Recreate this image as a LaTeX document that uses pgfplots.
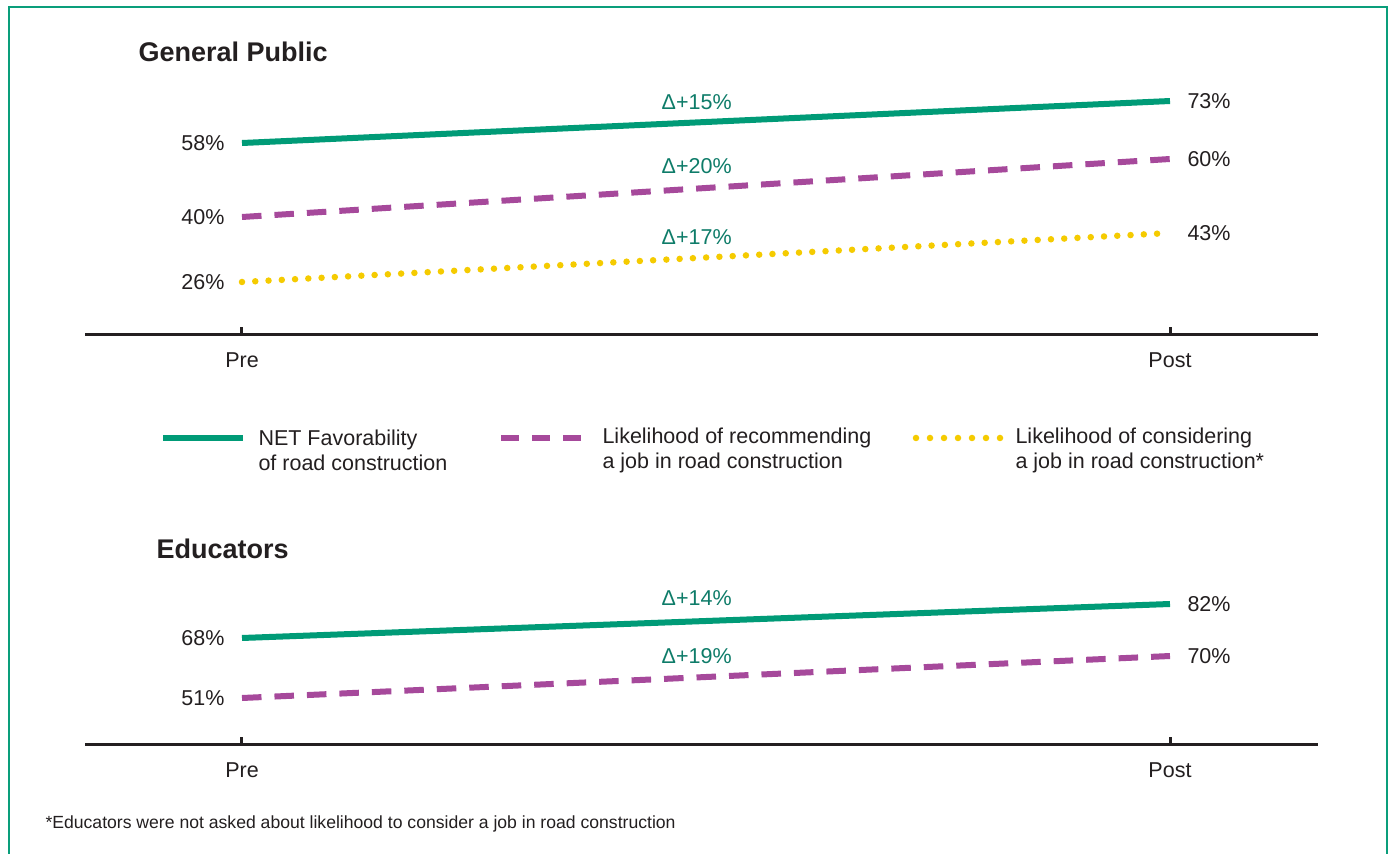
\documentclass[border=0pt]{standalone}
\usepackage{pgfplots}
\pgfplotsset{compat=1.18}
\usepackage{fontspec}
\setmainfont{Liberation Sans}
\definecolor{cgreen}{HTML}{009B77}
\definecolor{cpurple}{HTML}{A6499B}
\definecolor{cyellow}{HTML}{F5CB00}
\definecolor{ctext}{HTML}{231F20}
\definecolor{cdelta}{HTML}{0E7C69}
\definecolor{cframe}{HTML}{0A9E7B}
\newcommand{\lab}{\fontsize{21.5}{25}\selectfont}
\newcommand{\ttl}{\fontsize{27}{30}\selectfont\bfseries}
\pgfplotsset{
  panel/.style={scale only axis, width=1233pt, xmin=-0.16918, xmax=1.15948,
    clip=false, anchor=south west},
  mainax/.style={axis x line=bottom, axis y line=none,
    axis line style={line width=3pt, color=ctext, -},
    xtick={0,1}, xticklabels={Pre,Post}, ytick=\empty,
    xtick align=inside, major tick length=8pt,
    tick style={line width=3pt, color=ctext},
    xticklabel style={font=\lab, text=ctext, yshift=-14pt}},
}
\tikzset{
  sgreen/.style={color=cgreen, line width=6pt},
  spurple/.style={color=cpurple, line width=6pt, dash pattern=on 19.5pt off 13pt},
  syellow/.style={color=cyellow, line width=6.5pt, line cap=round, dash pattern=on 0pt off 13.28pt},
  vlab/.style={font=\lab, text=ctext},
  dlab/.style={font=\lab, text=cdelta},
}
\begin{document}
\begin{tikzpicture}[x=1pt,y=1pt]
\path[use as bounding box, fill=white] (0pt,0pt) rectangle (1393pt,854pt);
\draw[cframe, line width=2.5pt] (9pt,-10pt) -- (9pt,847pt) -- (1387pt,847pt) -- (1387pt,-10pt);
% titles
\node[anchor=west, text=ctext, font=\ttl] at (135pt,802pt) {General Public};
\node[anchor=west, text=ctext, font=\ttl] at (153pt,305pt) {Educators};
% ---------- Top panel ----------
\begin{axis}[panel, mainax, at={(85pt,519pt)}, height=250pt, ymin=-10.57, ymax=78.72]
\addplot[sgreen] coordinates {(0,58) (1,73)};
\node[vlab, anchor=east] at (axis cs:0,58) [xshift=-14pt] {58\%};
\node[vlab, anchor=west] at (axis cs:1,73) [xshift=14pt] {73\%};
\node[dlab] at (axis cs:0.49,65.35) [yshift=20pt] {Δ+15\%};
\end{axis}
\begin{axis}[panel, hide axis, at={(85pt,519pt)}, height=250pt, ymin=-0.69, ymax=85.52]
\addplot[spurple] coordinates {(0,40) (1,60)};
\node[vlab, anchor=east] at (axis cs:0,40) [xshift=-14pt] {40\%};
\node[vlab, anchor=west] at (axis cs:1,60) [xshift=14pt] {60\%};
\node[dlab] at (axis cs:0.49,49.8) [yshift=22pt] {Δ+20\%};
\end{axis}
\begin{axis}[panel, hide axis, at={(85pt,519pt)}, height=250pt, ymin=7.61, ymax=94.35]
\addplot[syellow] coordinates {(0,26) (1,43)};
\node[vlab, anchor=east] at (axis cs:0,26) [xshift=-14pt] {26\%};
\node[vlab, anchor=west] at (axis cs:1,43) [xshift=14pt] {43\%};
\node[dlab] at (axis cs:0.49,34.33) [yshift=21pt] {Δ+17\%};
\end{axis}
% ---------- Legend ----------
\draw[sgreen] (163pt,416pt) -- (243pt,416pt);
\node[anchor=west, align=left, font=\lab, text=ctext] at (255pt,403.5pt) {NET Favorability\\of road construction};
\draw[spurple, dash pattern=on 18pt off 13pt] (501pt,416pt) -- (583pt,416pt);
\node[anchor=west, align=left, font=\lab, text=ctext] at (599pt,403.5pt) {Likelihood of recommending\\a job in road construction};
\draw[syellow, dash pattern=on 0pt off 14pt] (916pt,416pt) -- (1000.5pt,416pt);
\node[anchor=west, align=left, font=\lab, text=ctext] at (1012pt,403.5pt) {Likelihood of considering\\a job in road construction*};
% ---------- Bottom panel ----------
\begin{axis}[panel, mainax, at={(85pt,109pt)}, height=200pt, ymin=23.94, ymax=106.29]
\addplot[sgreen] coordinates {(0,68) (1,82)};
\node[vlab, anchor=east] at (axis cs:0,68) [xshift=-14pt] {68\%};
\node[vlab, anchor=west] at (axis cs:1,82) [xshift=14pt] {82\%};
\node[dlab] at (axis cs:0.49,74.86) [yshift=23pt] {Δ+14\%};
\end{axis}
\begin{axis}[panel, hide axis, at={(85pt,109pt)}, height=200pt, ymin=29.74, ymax=120.22]
\addplot[spurple] coordinates {(0,51) (1,70)};
\node[vlab, anchor=east] at (axis cs:0,51) [xshift=-14pt] {51\%};
\node[vlab, anchor=west] at (axis cs:1,70) [xshift=14pt] {70\%};
\node[dlab] at (axis cs:0.49,60.31) [yshift=21pt] {Δ+19\%};
\end{axis}
% footnote
\node[anchor=west, text=ctext, font=\fontsize{17.6}{21}\selectfont] at (42pt,30pt) {*Educators were not asked about likelihood to consider a job in road construction};
\end{tikzpicture}
\end{document}
